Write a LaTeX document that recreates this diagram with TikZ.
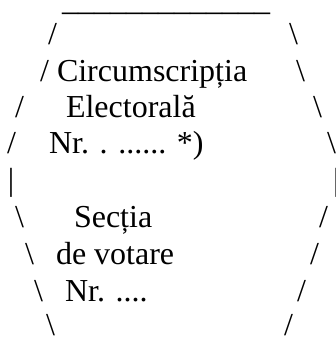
\documentclass[tikz,border=0pt]{standalone}
\usepackage{fontspec}
\setmainfont{Liberation Serif}
\begin{document}
\begin{tikzpicture}[x=1pt,y=-1pt,
  t/.style={anchor=base west, inner sep=0pt, outer sep=0pt, font=\fontsize{32}{36}\selectfont}]
\useasboundingbox (0,0) rectangle (336,340);
% line 0
\node[t] (top) at (62,10.5) {\_\_\_\_\_\_\_\_\_\_\_\_\_};
% line 1
\node[t] (l1a) at (48,44.5) {/};
\node[t] (l1b) at (289,44.5) {\textbackslash};
% line 2
\node[t] (l2a) at (40,81) {/};
\node[t] (l2t) at (57,81) {Circumscripția};
\node[t] (l2b) at (296,81) {\textbackslash};
% line 3
\node[t] (l3a) at (15,117) {/};
\node[t] (l3t) at (66,117) {Electorală};
\node[t] (l3b) at (313,117) {\textbackslash};
% line 4
\node[t] (l4a) at (7,153) {/};
\node[t] (l4t) at (49,153) {Nr. . ...... *)};
\node[t] (l4b) at (327,153) {\textbackslash};
% line 5
\node[t] (l5a) at (8,190) {|};
\node[t] (l5b) at (333,190) {|};
% line 6
\node[t] (l6a) at (15,227) {\textbackslash};
\node[t] (l6t) at (74,227) {Secția};
\node[t] (l6b) at (319,227) {/};
% line 7
\node[t] (l7a) at (25,264) {\textbackslash};
\node[t] (l7t) at (56,264) {de votare};
\node[t] (l7b) at (310,264) {/};
% line 8
\node[t] (l8a) at (34,301) {\textbackslash};
\node[t] (l8t) at (65,301) {Nr. ....};
\node[t] (l8b) at (297,301) {/};
% line 9
\node[t] (l9a) at (46,335) {\textbackslash};
\node[t] (l9b) at (284,335) {/};
\end{tikzpicture}
\end{document}
